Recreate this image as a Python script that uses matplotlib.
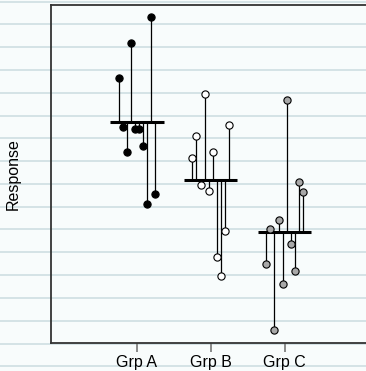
import numpy as np
import matplotlib
matplotlib.use("Agg")
import matplotlib.pyplot as plt
from matplotlib.lines import Line2D

groups = ["Grp A", "Grp B", "Grp C"]
grp_a = [7.85, 6.38, 5.64, 8.87, 6.33, 6.33, 5.82, 4.11, 9.64, 4.40]
grp_b = [5.48, 6.12, 4.68, 7.38, 4.50, 5.65, 2.54, 1.99, 3.32, 6.44]
grp_c = [2.35, 3.36, 0.38, 3.65, 1.75, 7.19, 2.94, 2.13, 4.76, 4.46]
values = [grp_a, grp_b, grp_c]
face_colors = ["black", "white", "#a8a8a8"]

W, H = 366, 371
fig = plt.figure(figsize=(W / 100, H / 100), dpi=100)
fig.patch.set_facecolor("#f8fcfc")

# notebook-paper stripes across the whole figure
for k in range(17):
    ypx = 1.5 + 22.8 * k
    yf = 1 - ypx / H
    fig.add_artist(Line2D([0, 1], [yf, yf], transform=fig.transFigure,
                          color="#d5e3e6", lw=1.4, zorder=0))

left_px, top_px, bottom_px, right_px = 51, 5, 343, 400
ax = fig.add_axes([left_px / W, 1 - bottom_px / H,
                   (right_px - left_px) / W, (bottom_px - top_px) / H])
ax.set_facecolor("none")
ax.set_zorder(1)

unit = 73.85
xl = 1 - (137 - left_px) / unit
ax.set_xlim(xl, xl + (right_px - left_px) / unit)
ax.set_ylim(0, 10)

offsets = np.linspace(-0.25, 0.25, 10)
for i, (vals, fc) in enumerate(zip(values, face_colors)):
    xc = i + 1
    vals = np.array(vals)
    m = vals.mean()
    xs = xc + offsets
    ax.vlines(xs, m, vals, color="black", lw=0.9, zorder=2)
    ax.hlines(m, xc - 0.36, xc + 0.36, color="black", lw=2.2, zorder=3)
    ax.plot(xs, vals, "o", ms=5.2, mfc=fc, mec="black", mew=0.8, zorder=4)

ax.set_xticks([1, 2, 3])
ax.set_xticklabels(groups, fontsize=11.5, family="Liberation Sans")
ax.set_yticks([])
ax.tick_params(axis="x", length=6.5, width=1.2, color="#777777", pad=2.5)
ax.set_ylabel("Response", fontsize=11.5, family="Liberation Sans", labelpad=22)
for s in ["left", "top", "bottom"]:
    ax.spines[s].set_color("#333333")
    ax.spines[s].set_linewidth(1.3)
ax.spines["right"].set_visible(False)

fig.savefig("out.png", dpi=100, facecolor=fig.get_facecolor())
